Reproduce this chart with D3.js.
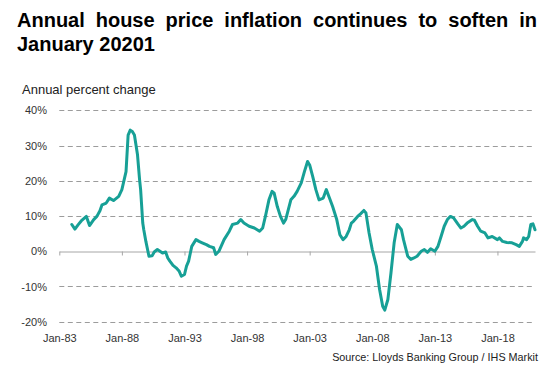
<!DOCTYPE html>
<html>
<head>
<meta charset="utf-8">
<script src="https://cdn.jsdelivr.net/npm/d3@7"></script>
<style>
  html, body { margin: 0; padding: 0; background: #fff; }
  svg { display: block; }
</style>
</head>
<body>
<svg id="chart" width="560" height="382"></svg>
<script>
// ---- Data ----
const titleLines = ["Annual house price inflation continues to soften in", "January 20201"];
const yAxisTitle = "Annual percent change";
const sourceText = "Source: Lloyds Banking Group / IHS Markit";
const yTicks = [-20, -10, 0, 10, 20, 30, 40];
const xTickYears = [1983, 1988, 1993, 1998, 2003, 2008, 2013, 2018];
const xTickLabels = ["Jan-83", "Jan-88", "Jan-93", "Jan-98", "Jan-03", "Jan-08", "Jan-13", "Jan-18"];

const months = [
  "1984-01","1984-04","1984-07","1984-10","1985-03","1985-06","1985-10","1986-01","1986-04","1986-06",
  "1986-10","1987-01","1987-05","1987-10","1988-01","1988-05","1988-07","1988-09","1988-11","1989-01",
  "1989-04","1989-06","1989-07","1989-09","1989-10","1989-12","1990-03","1990-06","1990-08","1990-11",
  "1991-04","1991-07","1991-09","1991-11","1992-02","1992-05","1992-08","1992-10","1993-01","1993-03",
  "1993-05","1993-08","1993-12","1994-03","1994-06","1994-10","1995-01","1995-05","1995-07","1995-10",
  "1996-03","1996-08","1996-11","1997-04","1997-07","1997-10","1998-03","1998-08","1999-01","1999-04",
  "1999-07","1999-10","2000-01","2000-03","2000-06","2000-09","2000-12","2001-02","2001-07","2001-10",
  "2002-01","2002-05","2002-08","2002-11","2003-01","2003-04","2003-07","2003-10","2004-02","2004-05",
  "2004-08","2004-11","2005-03","2005-06","2005-09","2005-12","2006-03","2006-05","2006-07","2006-11",
  "2007-02","2007-05","2007-07","2007-10","2008-01","2008-05","2008-08","2008-11","2009-01","2009-04",
  "2009-07","2009-10","2010-01","2010-05","2010-07","2010-11","2011-02","2011-05","2011-08","2011-12",
  "2012-03","2012-06","2012-09","2013-01","2013-04","2013-07","2013-10","2014-01","2014-04","2014-07",
  "2014-11","2015-02","2015-05","2015-08","2016-01","2016-03","2016-06","2016-09","2017-01","2017-04",
  "2017-08","2018-01","2018-03","2018-06","2018-10","2019-03","2019-07","2019-10","2020-01","2020-02",
  "2020-05","2020-07","2020-09","2020-11","2021-01"
];
const inflation = [
  7.6, 6.3, 7.5, 8.6, 9.9, 7.3, 9.0, 9.9, 11.5, 13.2,
  13.7, 15.1, 14.4, 15.6, 17.5, 22.6, 33.0, 34.4, 34.0, 33.0,
  27.4, 20.3, 17.5, 8.0, 6.1, 2.8, -1.4, -1.3, -0.2, 0.5,
  -0.5, -0.2, -1.9, -2.8, -4.0, -4.7, -5.7, -7.1, -6.6, -4.2,
  -2.8, 1.4, 3.3, 2.8, 2.4, 1.9, 1.4, 1.0, -0.9, 0.0,
  3.3, 5.7, 7.6, 8.0, 9.0, 8.0, 7.1, 6.6, 5.7, 6.6,
  10.4, 14.6, 17.0, 16.5, 12.7, 9.9, 8.0, 9.0, 14.6, 15.6,
  17.0, 19.4, 22.6, 25.5, 24.5, 21.2, 17.5, 14.6, 15.1, 17.5,
  15.1, 12.7, 9.0, 4.7, 3.3, 4.2, 6.1, 8.0, 8.5, 9.9,
  10.7, 11.6, 10.9, 5.2, 0.5, -4.2, -10.8, -15.6, -16.7, -13.7,
  -6.1, 2.4, 7.6, 6.1, 3.3, -1.4, -2.3, -1.9, -1.4, 0.0,
  0.5, -0.3, 0.7, 0.0, 1.4, 4.2, 7.1, 9.0, 9.9, 9.5,
  7.8, 6.6, 7.1, 8.0, 9.0, 8.8, 7.1, 5.7, 5.2, 3.8,
  4.2, 3.3, 3.8, 2.8, 2.5, 2.4, 1.9, 1.4, 2.8, 3.8,
  3.3, 4.2, 7.6, 7.8, 6.1
];

// ---- Drawing ----
const parse = d3.timeParse("%Y-%m");
const data = months.map((m, i) => ({ date: parse(m), value: inflation[i] }));

const svg = d3.select("#chart");
const plotLeft = 59.3, plotRight = 535, plotTop = 110.4, plotBottom = 321.7;

const x = d3.scaleTime()
  .domain([new Date(1983, 0, 1), new Date(2021, 0, 1)])
  .range([plotLeft, plotRight]);
const y = d3.scaleLinear().domain([-20, 40]).range([plotBottom, plotTop]);

const font = "'Liberation Sans', Arial, sans-serif";

// Title (justified first line)
const title = svg.append("g").attr("font-family", font).attr("font-weight", "bold")
  .attr("font-size", 20).attr("fill", "#000");
const t1 = title.append("text").attr("x", 17).attr("y", 27).text(titleLines[0]);
const natural = t1.node().getComputedTextLength();
const gaps = titleLines[0].split(" ").length - 1;
const targetW = 537 - 17;
if (natural < targetW) t1.attr("word-spacing", (targetW - natural) / gaps);
title.append("text").attr("x", 17).attr("y", 51).text(titleLines[1]);

// Y axis title
svg.append("text").attr("x", 22).attr("y", 94)
  .attr("font-family", font).attr("font-size", 13).attr("fill", "#222")
  .text(yAxisTitle);

// Gridlines
const gridTicks = yTicks.filter(v => v !== 0);
svg.append("g")
  .selectAll("line").data(gridTicks).join("line")
  .attr("x1", plotLeft).attr("x2", plotRight - 1)
  .attr("y1", d => Math.round(y(d)) + 0.5).attr("y2", d => Math.round(y(d)) + 0.5)
  .attr("stroke", "#9c9c9c").attr("stroke-width", 1)
  .attr("stroke-dasharray", "5,3.5");

// Y axis labels
const yAxis = d3.axisLeft(y).tickValues(yTicks).tickSize(0).tickPadding(0)
  .tickFormat(d => d + "%");
const yg = svg.append("g").attr("transform", `translate(47,0)`).call(yAxis);
yg.select(".domain").remove();
yg.selectAll("text").attr("font-family", font).attr("font-size", 11).attr("fill", "#333");

// Zero line with ticks
const xAxis = d3.axisBottom(x)
  .tickValues(xTickYears.map(yr => new Date(yr, 0, 1)))
  .tickSize(4).tickSizeOuter(0).tickFormat("");
const xg = svg.append("g").attr("transform", `translate(0,${Math.round(y(0)) + 0.5})`).call(xAxis);
xg.select(".domain").attr("stroke", "#a6a6a6").attr("stroke-width", 1);
xg.selectAll(".tick line").attr("stroke", "#a6a6a6");

// X labels along the bottom
const xLab = d3.axisBottom(x)
  .tickValues(xTickYears.map(yr => new Date(yr, 0, 1)))
  .tickSize(0).tickPadding(0)
  .tickFormat((d, i) => xTickLabels[i]);
const xlg = svg.append("g").attr("transform", `translate(0,334)`).call(xLab);
xlg.select(".domain").remove();
xlg.selectAll("text").attr("font-family", font).attr("font-size", 11).attr("fill", "#333");

// Line
const line = d3.line().x(d => x(d.date)).y(d => y(d.value)).curve(d3.curveLinear);
svg.append("path").datum(data)
  .attr("d", line)
  .attr("fill", "none")
  .attr("stroke", "#17a096")
  .attr("stroke-width", 3)
  .attr("stroke-linejoin", "round")
  .attr("stroke-linecap", "round");

// Source
svg.append("text").attr("x", 538).attr("y", 361).attr("text-anchor", "end")
  .attr("font-family", font).attr("font-size", 10.8).attr("fill", "#222")
  .text(sourceText);
</script>
</body>
</html>
